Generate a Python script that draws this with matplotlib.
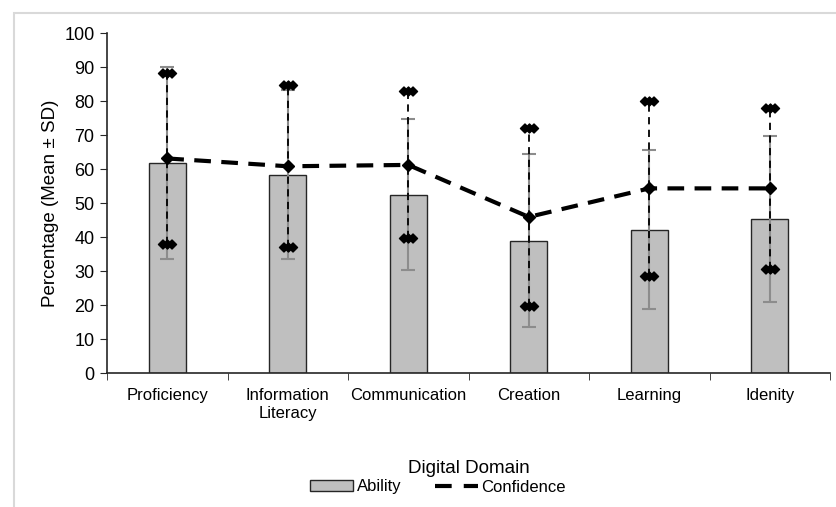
import matplotlib
matplotlib.use('Agg')
import matplotlib.pyplot as plt
from matplotlib.path import Path
from matplotlib.patches import Rectangle
from matplotlib.lines import Line2D
import numpy as np

plt.rcParams['font.family'] = ['Liberation Sans', 'DejaVu Sans']

# Data
domains = ['Proficiency', 'Information\nLiteracy', 'Communication', 'Creation', 'Learning', 'Idenity']
ability_mean = [61.7, 58.3, 52.5, 38.9, 42.2, 45.4]
ability_sd = [28.2, 24.8, 22.2, 25.4, 23.3, 24.4]
confidence_mean = [63.1, 60.8, 61.2, 45.9, 54.3, 54.3]
confidence_sd = [25.1, 23.8, 21.6, 26.2, 25.8, 23.7]

# triple-diamond cap marker
verts = [(-2, 0), (-1, 1), (-0.5, 0.5), (0, 1), (0.5, 0.5), (1, 1), (2, 0),
         (1, -1), (0.5, -0.5), (0, -1), (-0.5, -0.5), (-1, -1), (-2, 0)]
cap_marker = Path(verts, closed=True)

fig = plt.figure(figsize=(8.36, 5.07), dpi=100)
# light frame round the chart area
fig.patches.append(Rectangle((14 / 836, -0.1), 1.2, 1 - 13 / 507 + 0.1, transform=fig.transFigure,
                             fill=False, edgecolor='#d9d9d9', linewidth=1.5))
ax = fig.add_axes([107 / 836, (507 - 373) / 507, (830 - 107) / 836, 340 / 507])

x = np.arange(len(domains))
ax.bar(x, ability_mean, width=0.31, color='#bfbfbf', edgecolor='#262626', linewidth=1.0,
       label='Ability', zorder=2)
ax.errorbar(x, ability_mean, yerr=ability_sd, fmt='none', ecolor='#8c8c8c', elinewidth=1.5,
            capsize=5, capthick=1.5, zorder=3)

# confidence error bars: dashed vertical + diamond caps
for xi, m, s in zip(x, confidence_mean, confidence_sd):
    ax.plot([xi, xi], [m - s, m + s], color='black', linestyle=(0, (4, 3)), linewidth=1.3, zorder=4)
ax.plot(x, np.array(confidence_mean) + np.array(confidence_sd), linestyle='none',
        marker=cap_marker, markersize=13, color='black', zorder=5)
ax.plot(x, np.array(confidence_mean) - np.array(confidence_sd), linestyle='none',
        marker=cap_marker, markersize=13, color='black', zorder=5)
ax.plot(x, confidence_mean, color='black', linestyle=(0, (4, 2.5)), linewidth=3,
        marker='D', markersize=6, label='Confidence', zorder=6)

ax.set_xlim(-0.5, len(domains) - 0.5)
ax.set_ylim(0, 100)
ax.set_yticks(np.arange(0, 101, 10))
ax.set_xticks(x)
ax.set_xticklabels(domains, fontsize=12)
ax.set_xticks(np.arange(-0.5, len(domains), 1), minor=True)
ax.tick_params(axis='x', which='major', length=0, pad=11)
ax.tick_params(axis='x', which='minor', length=5, direction='out', color='#262626')
ax.tick_params(axis='y', labelsize=13, length=5, direction='out', color='#262626', pad=4)
for s in ['top', 'right']:
    ax.spines[s].set_visible(False)
for s in ['left', 'bottom']:
    ax.spines[s].set_color('#262626')
    ax.spines[s].set_linewidth(1.2)
ax.set_ylabel('Percentage (Mean ± SD)', fontsize=13.5, labelpad=4)
ax.set_xlabel('Digital Domain', fontsize=13.5, labelpad=28)

# legend: line without markers
handles = [Rectangle((0, 0), 1, 1, facecolor='#bfbfbf', edgecolor='#262626'),
           Line2D([], [], color='black', linestyle=(0, (4, 2.9)), linewidth=3)]
fig.legend(handles, ['Ability', 'Confidence'], loc='center', bbox_to_anchor=(438 / 836, 1 - 487 / 507),
           ncol=2, frameon=False, fontsize=12, handlelength=2.6, handleheight=0.6,
           columnspacing=2.0, handletextpad=0.2)

fig.savefig('out.png', dpi=100)
